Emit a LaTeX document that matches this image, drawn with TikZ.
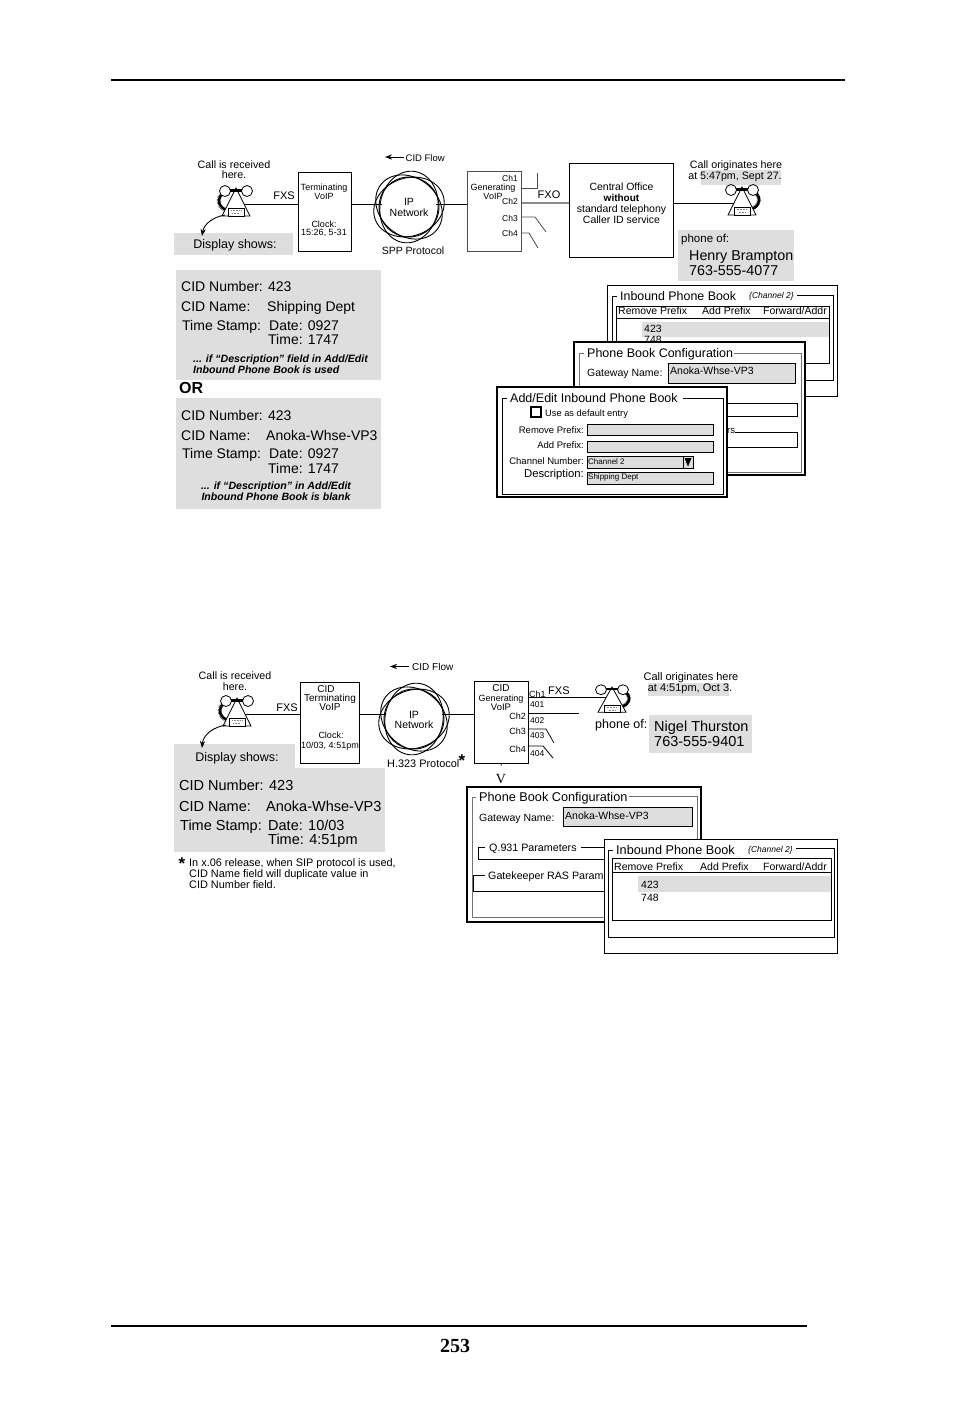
\documentclass[tikz,border=0pt]{standalone}
\usepackage{fontspec}
\setmainfont{Liberation Sans}
\newfontfamily\pagefont{Liberation Serif}
\usetikzlibrary{arrows.meta,decorations.pathmorphing}
\newcommand{\fs}[2]{\fontsize{#1}{#2}\selectfont}
\definecolor{shade}{gray}{.87}
\tikzset{>=Stealth,
lt/.style={anchor=west,inner sep=0pt,text height=.85em,text depth=0pt},
rt/.style={anchor=east,inner sep=0pt,text height=.85em,text depth=0pt},
ct/.style={anchor=center,inner sep=0pt,text height=.85em,text depth=0pt},
box/.style={draw,anchor=north west,inner sep=0pt,line width=.9pt},
panel/.style={fill=shade,draw=none},
win/.style={fill=white,draw=black},
field/.style={fill=shade,draw=black,line width=.7pt},
flow/.style={line width=.9pt,->},
edge/.style={line width=.8pt},
phone/.pic={
\draw[line width=.55pt,decorate,decoration={coil,aspect=.5,amplitude=1.3pt,segment length=1.2pt}] (-12,5) .. controls (-20,9) and (-18,20) .. (-9,22);
\draw[line width=.8pt,fill=white] (0,0)--(-14,28)--(14,28)--cycle;
\draw[line width=.8pt,fill=white] (-11,3) circle[radius=5.5pt] (11,3) circle[radius=5.5pt];
\draw[line width=2.4pt] (-6,2.5)--(6,2.5);
\draw[line width=.6pt,fill=white] (-8,20) rectangle (8,28);
\draw[line width=.5pt,gray,dash pattern=on 1pt off .6pt] (-5,22.5)--(5,22.5) (-4,25.5)--(4,25.5);
\coordinate (-side) at (8,16);\coordinate (-hook) at (6,11);\coordinate (-foot) at (-11,27);},
ipcloud/.pic={
\foreach \a in {20,80,140} \draw[line width=.9pt] (0,0) ellipse[x radius=36pt,y radius=29pt,rotate=\a];
\draw[line width=.9pt] (0,0) circle[radius=30pt];}}
\begin{document}
\begin{tikzpicture}[x=1pt,y=-1pt]
\useasboundingbox (0,0) rectangle (954,1409);
\draw[line width=2pt] (111,80)--(845,80);\draw[line width=2pt] (111,1326)--(807,1326);
\node[ct,font=\fs{20}{22}\pagefont\bfseries] (pagenum) at (455,1348){253};

% upper call path
\fill[panel] (174,233) rectangle (293,255);\fill[panel] (701,170) rectangle (781,185);\fill[panel] (678,230) rectangle (794,281);
\node[ct,font=\fs{10.7}{12}] (recvA) at (234,164){Call is received};\node[ct,font=\fs{10.7}{12}] (recvB) at (234,174.5){here.};
\pic (phl) at (236,188){phone};\pic[xscale=-1] (phr) at (742,187){phone};
\node[ct,font=\fs{12.5}{14}] (dispA) at (235,244){Display shows:};
\node[ct,font=\fs{11}{12}] (fxsA) at (284,195){FXS};
\node[box,minimum width=53,minimum height=79] (termA) at (298,172){};
\node[ct,font=\fs{9}{10}] (termAa) at (324,186){Terminating};\node[ct,font=\fs{9}{10}] (termAb) at (324,195){VoIP};
\node[ct,font=\fs{9}{10}] (termAc) at (324,223){Clock:};\node[ct,font=\fs{9}{10}] (termAd) at (324,231){15:26, 5-31};
\pic at (409,207){ipcloud};\node[circle,minimum size=54,inner sep=0pt] (ipA) at (409,204){};
\node[ct,font=\fs{10.5}{12}] (ipAa) at (409,201){IP};\node[ct,font=\fs{10.5}{12}] (ipAb) at (409,212){Network};
\node[ct,font=\fs{10.5}{12}] (sppA) at (413,250){SPP Protocol};
\node[lt,font=\fs{9.5}{11}] (cidA) at (405.5,157){CID Flow};\coordinate (cidAend) at (385,157);\draw[flow] ([xshift=-2pt]cidA.west)--(cidAend);
\node[box,draw=black!70,minimum width=54,minimum height=80] (genA) at (467,171){};
\node[rt,font=\fs{8.5}{10}] (chAa) at (518,177){Ch1};\node[rt,font=\fs{8.5}{10}] (chAb) at (518,200){Ch2};\node[rt,font=\fs{8.5}{10}] (chAc) at (518,217){Ch3};\node[rt,font=\fs{8.5}{10}] (chAd) at (518,232){Ch4};
\node[ct,font=\fs{9}{10}] (genAa) at (493,186){Generating};\node[ct,font=\fs{9}{10}] (genAb) at (493,195){VoIP};
\node[ct,font=\fs{11}{12}] (fxoA) at (549,194){FXO};
\node[box,minimum width=104,minimum height=94] (coA) at (569,163){};
\node[ct,font=\fs{10.5}{12}] (coAa) at (621.5,186){Central Office};\node[ct,font=\fs{10}{12}\bfseries] (coAb) at (621.5,197){without};
\node[ct,font=\fs{10.5}{12}] (coAc) at (621.5,208){standard telephony};\node[ct,font=\fs{10.5}{12}] (coAd) at (621.5,219){Caller ID service};
\node[ct,font=\fs{10.7}{12}] (origA) at (736,164){Call originates here};\node[ct,font=\fs{10.7}{12}] (origB) at (735,175.5){at 5:47pm, Sept 27.};
\node[lt,font=\fs{11.5}{13}] (ofA) at (681,238){phone of:};
\node[lt,font=\fs{14.3}{16}] (nameA) at (689,256){Henry Brampton};\node[lt,font=\fs{14.3}{16}] (telA) at (689,271){763-555-4077};
\draw[edge] (phl-side)--(termA.west|-phl-side);
\draw[edge] (termA.east|-ipA)--(ipA.west);\draw[edge] (ipA.east)--(genA.west|-ipA);
\draw[edge] (coA.east|-phr-side)--(phr-side);
\draw[line width=1.6pt,black!45] (genA.east|-0,203)--(coA.west|-0,203);
\coordinate (chAend) at (537,173);\coordinate (chCend) at (546,232);\coordinate (chDend) at (538,248);
\draw[edge,black!70] (genA.east|-0,188)--(537,188)--(chAend);
\draw[edge,black!70] (genA.east|-0,217)--(535,217)--(chCend);
\draw[edge,black!70] (genA.east|-0,233)--(529,233)--(chDend);
\coordinate (dispAtip) at (202,236);\draw[flow] (phl-foot) .. controls (213,217) and (204,224) .. (dispAtip);

% upper display text
\fill[panel] (176,270) rectangle (381,380);\fill[panel] (176,398) rectangle (381,509);
\node[lt,font=\fs{14}{16}] (numA) at (181,287){CID Number: 423};
\node[lt,font=\fs{14}{16}] (nmA) at (181,307){CID Name:};\node[lt,font=\fs{14}{16}] (nmAv) at (267,307){Shipping Dept};
\node[lt,font=\fs{14}{16}] (tsA) at (182,326){Time Stamp:};\node[lt,font=\fs{14}{16}] (dtA) at (269,326){Date: 0927};\node[lt,font=\fs{14}{16}] (tmA) at (268,340){Time: 1747};
\node[lt,font=\fs{10.6}{12}\bfseries\itshape] (noteAa) at (193,358.5){... if “Description” field in Add/Edit};
\node[lt,font=\fs{10.6}{12}\bfseries\itshape] (noteAb) at (193,369.5){Inbound Phone Book is used};
\node[lt,font=\fs{16}{18}\bfseries] (orA) at (179,389){OR};
\node[lt,font=\fs{14}{16}] (numB) at (181,416){CID Number: 423};
\node[lt,font=\fs{14}{16}] (nmB) at (181,436){CID Name:};\node[lt,font=\fs{14}{16}] (nmBv) at (266,436){Anoka-Whse-VP3};
\node[lt,font=\fs{14}{16}] (tsB) at (182,454){Time Stamp:};\node[lt,font=\fs{14}{16}] (dtB) at (269,454){Date: 0927};\node[lt,font=\fs{14}{16}] (tmB) at (268,469){Time: 1747};
\node[ct,font=\fs{10.6}{12}\bfseries\itshape] (noteBa) at (276,485.5){... if “Description” in Add/Edit};
\node[ct,font=\fs{10.6}{12}\bfseries\itshape] (noteBb) at (276,496.5){Inbound Phone Book is blank};

% upper windows
\draw[win,line width=1pt] (607,285) rectangle (837,396);
\node[lt,font=\fs{12.4}{14}] (bookA) at (620,296){Inbound Phone Book};\node[lt,font=\fs{8.5}{10}\itshape] (chanA) at (749,294){\{Channel 2\}};
\draw[edge] ([xshift=-3pt]bookA.west)--(612,296)--(612,380)--(833,380)--(833,295)--([xshift=3pt]chanA.east|-0,295);
\draw[edge] (616,306) rectangle (829,363);\draw[edge] (616,318)--(829,318);
\node[lt,font=\fs{10.5}{12}] (remA) at (618,310.5){Remove Prefix};\node[lt,font=\fs{10.5}{12}] (addA) at (702,310.5){Add Prefix};\node[lt,font=\fs{10.5}{12}] (fwdA) at (763,310.5){Forward/Addr};
\fill[panel] (642,322) rectangle (829,337);
\node[lt,font=\fs{10.5}{12}] (rowAa) at (644,328){423};\node[lt,font=\fs{10.5}{12}] (rowAb) at (644,339.5){748};
\draw[win,line width=1.5pt] (574,342) rectangle (805,475);
\node[lt,font=\fs{12.5}{14}] (cfgA) at (587,353){Phone Book Configuration};
\draw[line width=1pt,black!55] ([xshift=-3pt]cfgA.west)--(579,353)--(579,472)--(801,472)--(801,353)--([xshift=1pt]cfgA.east);
\node[lt,font=\fs{10.5}{12}] (gwA) at (587,372.5){Gateway Name:};
\draw[field] (668,363) rectangle (795,383);\node[lt,font=\fs{10.5}{12}] (gwAv) at (670,370){Anoka-Whse-VP3};
\draw[edge] (700,403) rectangle (797,416);\draw[edge] (735,432)--(797,432)--(797,447)--(700,447);
\node[lt,font=\fs{9.5}{11}] (rsA) at (727,429){rs};
\draw[win,line width=1.5pt] (497,387) rectangle (727,497);
\node[lt,font=\fs{12.5}{14}] (editA) at (510,398){Add/Edit Inbound Phone Book};
\draw[edge] ([xshift=-3pt]editA.west)--(502,398)--(502,494)--(723,494)--(723,398)--([xshift=5pt]editA.east);
\draw[line width=1.5pt] (531,407) rectangle (541,417);\node[lt,font=\fs{9.3}{11}] (useA) at (545,412){Use as default entry};
\node[rt,font=\fs{9.5}{11}] (lbA) at (584,429){Remove Prefix:};\draw[field] (587,424) rectangle (713,435);
\node[rt,font=\fs{9.5}{11}] (lbB) at (584,444){Add Prefix:};\draw[field] (587,441) rectangle (713,452);
\node[rt,font=\fs{9.5}{11}] (lbC) at (584,460){Channel Number:};\draw[field] (587,456) rectangle (693,468);
\draw[line width=.7pt] (683,456)--(683,468);\fill (684.5,458)--(691.5,458)--(688,466.5)--cycle;
\node[lt,font=\fs{8}{9}] (lbCv) at (588,460){Channel 2};
\node[rt,font=\fs{11.3}{12}] (lbD) at (584,473){Description:};\draw[field] (587,472) rectangle (713,484);
\node[lt,font=\fs{8}{9}] (lbDv) at (588,475){Shipping Dept};

% lower call path
\fill[panel] (174,744) rectangle (295,770);\fill[panel] (174,768) rectangle (385,852);\fill[panel] (648,683) rectangle (729,696);\fill[panel] (649,715) rectangle (752,753);
\node[ct,font=\fs{10.7}{12}] (recvC) at (235,675){Call is received};\node[ct,font=\fs{10.7}{12}] (recvD) at (235,686){here.};
\pic (phm) at (237,698){phone};\pic[xscale=-1,yscale=.9] (phs) at (612,687){phone};
\node[ct,font=\fs{12.5}{14}] (dispB) at (237,757){Display shows:};
\node[ct,font=\fs{11}{12}] (fxsB) at (287,707){FXS};
\node[box,minimum width=59,minimum height=81] (termB) at (300,682){};
\node[ct,font=\fs{10}{11}] (termBa) at (326,688){CID};\node[ct,font=\fs{10}{11}] (termBb) at (330,697){Terminating};\node[ct,font=\fs{10}{11}] (termBc) at (330,706){VoIP};
\node[ct,font=\fs{9}{10}] (termBd) at (331,734){Clock:};\node[ct,font=\fs{9}{10}] (termBe) at (330,744){10/03, 4:51pm};
\pic at (414,719){ipcloud};\node[circle,minimum size=56,inner sep=0pt] (ipB) at (414,714){};
\node[ct,font=\fs{10.5}{12}] (ipBa) at (414,714){IP};\node[ct,font=\fs{10.5}{12}] (ipBb) at (414,724.5){Network};
\node[lt,font=\fs{10.9}{12}] (h323) at (387,763){H.323 Protocol};
\node[ct,font=\fs{17}{18}\bfseries] (astA) at (462,762){*};
\node[lt,font=\fs{10}{11}] (cidB) at (412,666.5){CID Flow};\coordinate (cidBend) at (390,666.5);\draw[flow] ([xshift=-3pt]cidB.west)--(cidBend);
\node[box,minimum width=54,minimum height=82] (genB) at (474,681){};
\node[ct,font=\fs{10}{11}] (genBa) at (501,687){CID};\node[ct,font=\fs{9}{10}] (genBb) at (501,697){Generating};\node[ct,font=\fs{9.5}{10}] (genBc) at (501,706){VoIP};
\node[lt,font=\fs{9}{10}] (chBa) at (529,693){Ch1};\node[lt,font=\fs{8.5}{10}] (numBa) at (530,703){401};
\node[lt,font=\fs{11}{12}] (fxsC) at (548,690){FXS};
\node[rt,font=\fs{9}{10}] (chBb) at (526,715){Ch2};\node[lt,font=\fs{8.5}{10}] (numBb) at (530,719){402};
\node[rt,font=\fs{9}{10}] (chBc) at (526,730){Ch3};\node[lt,font=\fs{8.5}{10}] (numBc) at (530,734){403};
\node[rt,font=\fs{9}{10}] (chBd) at (526,748){Ch4};\node[lt,font=\fs{8.5}{10}] (numBd) at (530,752){404};
\node[ct,font=\fs{11}{12}] (origC) at (691,676){Call originates here};\node[ct,font=\fs{11}{12}] (origD) at (690,687.5){at 4:51pm, Oct 3.};
\node[lt,font=\fs{12.5}{14}] (ofB) at (595,724){phone of:};
\node[lt,font=\fs{14.5}{16}] (nameB) at (654,727){Nigel Thurston};\node[lt,font=\fs{14.5}{16}] (telB) at (654,742){763-555-9401};
\draw[edge] (phm-side)--(termB.west|-phm-side);
\draw[edge] (termB.east|-ipB)--(ipB.west);\draw[edge] (ipB.east)--(genB.west|-ipB);
\draw[edge] (genB.east|-phs-hook)--(phs-hook);
\coordinate (chFend) at (579,713);\coordinate (chGend) at (554,743);\coordinate (chHend) at (553,758);
\draw[edge] (genB.east|-chFend)--(chFend);
\draw[edge] (genB.east|-0,729)--(546,729)--(chGend);
\draw[edge] (genB.east|-0,746)--(543,746)--(chHend);
\node[ct,font=\fs{14}{16}\pagefont] (vee) at (501,779){V};\coordinate (veetop) at (501,765.5);\draw[edge] (genB.south)--(veetop);
\coordinate (dispBtip) at (202,748);\draw[flow] (phm-foot) .. controls (213,727) and (203,735) .. (dispBtip);

% lower display text
\node[lt,font=\fs{14.5}{16}] (numC) at (179,786){CID Number: 423};
\node[lt,font=\fs{14.5}{16}] (nmC) at (179,807){CID Name:};\node[lt,font=\fs{14.5}{16}] (nmCv) at (266,807){Anoka-Whse-VP3};
\node[lt,font=\fs{14.5}{16}] (tsC) at (180,826){Time Stamp:};\node[lt,font=\fs{14.5}{16}] (dtC) at (268,826){Date: 10/03};\node[lt,font=\fs{14.5}{16}] (tmC) at (268,840){Time: 4:51pm};
\node[ct,font=\fs{17}{18}\bfseries] (astB) at (182,865){*};
\node[lt,font=\fs{10.9}{12}] (footA) at (189,862){In x.06 release, when SIP protocol is used,};
\node[lt,font=\fs{10.9}{12}] (footB) at (189,873){CID Name field will duplicate value in};
\node[lt,font=\fs{10.9}{12}] (footC) at (189,884){CID Number field.};

% lower windows
\draw[win,line width=1.5pt] (467,787) rectangle (701,922);
\node[lt,font=\fs{12.7}{14}] (cfgB) at (479,797){Phone Book Configuration};
\draw[line width=1pt,black!55] ([xshift=-3pt]cfgB.west)--(472,797)--(472,917)--(697,917)--(697,796)--([xshift=1pt]cfgB.east|-0,796);
\node[lt,font=\fs{10.5}{12}] (gwB) at (479,817){Gateway Name:};
\draw[field] (563,807) rectangle (692,826);\node[lt,font=\fs{10.5}{12}] (gwBv) at (565,815){Anoka-Whse-VP3};
\node[lt,font=\fs{10.7}{12}] (q931) at (489,847){Q.931 Parameters};
\draw[edge] ([xshift=-4pt]q931.west)--(478,847)--(478,859)--(620,859);\draw[edge] ([xshift=4pt]q931.east)--(620,847);
\node[lt,font=\fs{10.7}{12}] (gate) at (488,875){Gatekeeper RAS Param};
\draw[edge] ([xshift=-3pt]gate.west)--(473,875)--(473,891)--(620,891);
\draw[win,line width=1pt] (604,839) rectangle (837,953);
\node[lt,font=\fs{12.7}{14}] (bookB) at (616,850){Inbound Phone Book};\node[lt,font=\fs{8.5}{10}\itshape] (chanB) at (748,848){\{Channel 2\}};
\draw[edge] ([xshift=-3pt]bookB.west)--(608,850)--(608,937)--(834,937)--(834,848)--([xshift=3pt]chanB.east|-0,848);
\draw[edge] (612,858) rectangle (831,920);\draw[edge] (612,872)--(831,872);
\node[lt,font=\fs{10.5}{12}] (remB) at (614,866){Remove Prefix};\node[lt,font=\fs{10.5}{12}] (addB) at (700,866){Add Prefix};\node[lt,font=\fs{10.5}{12}] (fwdB) at (763,866){Forward/Addr};
\fill[panel] (638,876) rectangle (831,892);
\node[lt,font=\fs{10.5}{12}] (rowBa) at (641,884){423};\node[lt,font=\fs{10.5}{12}] (rowBb) at (641,897){748};
\end{tikzpicture}
\end{document}
